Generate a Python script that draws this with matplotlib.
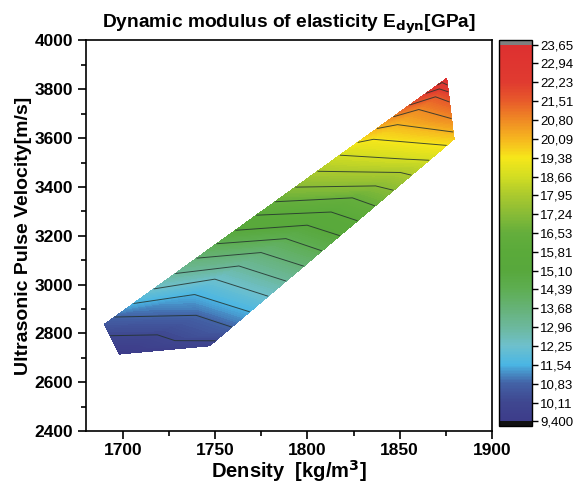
import numpy as np
import matplotlib
matplotlib.use("Agg")
import matplotlib.pyplot as plt
import matplotlib.tri as mtri
from matplotlib.colors import LinearSegmentedColormap, Normalize
from matplotlib.cm import ScalarMappable

plt.rcParams['font.family'] = ['Liberation Sans', 'DejaVu Sans']

# Measurement points read from the picture, arranged in cross-sections of the band
# upper (low-density) edge, middle line, lower (high-density) edge
upper_d = [1690.0, 1695.7, 1705.8, 1716.9, 1728.5, 1740.1, 1750.9, 1761.1, 1772.4, 1782.6,
           1793.6, 1805.6, 1817.7, 1827.3, 1837.8, 1846.6, 1855.4, 1864.3, 1870.5]
upper_v = [2837, 2868, 2923, 2983, 3046, 3109, 3168, 3223, 3285, 3340,
           3400, 3465, 3531, 3583, 3640, 3688, 3736, 3784, 3818]
mid_d = [1698.0, 1740.0, 1739.0, 1750.0, 1763.0, 1775.0, 1788.5, 1800.0, 1813.0, 1824.5,
         1837.0, 1850.5, 1855.0, 1836.0, 1849.0, 1860.5, 1869.5, 1871.5, 1873.0]
mid_v = [2715, 2875, 2960, 3023, 3077, 3132, 3189, 3244, 3298, 3356,
         3405, 3460, 3514, 3596, 3656, 3718, 3770, 3802, 3828]
lower_d = [1747.0, 1759.2, 1768.9, 1778.9, 1788.6, 1798.2, 1808.0, 1817.7, 1827.3, 1836.8,
           1846.8, 1856.5, 1866.1, 1875.6, 1879.0, 1878.1, 1877.0, 1876.4, 1875.9]
lower_v = [2749, 2827, 2889, 2953, 3015, 3076, 3139, 3201, 3262, 3323,
           3387, 3449, 3510, 3571, 3626, 3681, 3749, 3790, 3818]
upper_e = [10.55, 10.84, 11.55, 12.26, 12.97, 13.69, 14.40, 15.11, 15.82, 16.54,
           17.25, 17.96, 18.67, 19.39, 20.10, 20.81, 21.52, 22.24, 22.95]
mid_e = [9.40, 10.84, 11.55, 12.26, 12.97, 13.69, 14.40, 15.11, 15.82, 16.54,
         17.25, 17.96, 18.67, 19.39, 20.10, 20.81, 21.52, 22.24, 22.95]
lower_e = [9.85, 10.84, 11.55, 12.26, 12.97, 13.69, 14.40, 15.11, 15.82, 16.54,
           17.25, 17.96, 18.67, 19.39, 20.10, 20.81, 21.52, 22.24, 22.95]
corner_d = [1879.5, 1875.5]   # lower-right corner, top tip
corner_v = [3596, 3845]
corner_e = [19.75, 23.65]

cbar_ticks = [9.400, 10.11, 10.83, 11.54, 12.25, 12.96, 13.68, 14.39, 15.10, 15.81, 16.53,
              17.24, 17.95, 18.66, 19.38, 20.09, 20.80, 21.51, 22.23, 22.94, 23.65]
cbar_labels = ["9,400", "10,11", "10,83", "11,54", "12,25", "12,96", "13,68", "14,39", "15,10",
               "15,81", "16,53", "17,24", "17,95", "18,66", "19,38", "20,09", "20,80", "21,51",
               "22,23", "22,94", "23,65"]

cmap_colors = ["#3d3c8a", "#3f4790", "#4362a6", "#4ab6e4", "#6ec0cc", "#6cb89c", "#66b277",
               "#5eae52", "#58a83c", "#5aaa3a", "#64ae3c", "#88bb36", "#aac92e", "#d2dd22",
               "#f6e71a", "#f6b61f", "#f08b24", "#e85c2a", "#e03b30", "#de3030"]

# ---- mesh connectivity (structure only) ----
n = len(upper_d)
x = np.array(upper_d + mid_d + lower_d + corner_d)
y = np.array(upper_v + mid_v + lower_v + corner_v)
z = np.array(upper_e + mid_e + lower_e + corner_e)
U = lambda i: i
M = lambda i: n + i
L = lambda i: 2 * n + i
iD, iB = 3 * n, 3 * n + 1
tris = []
for i in range(n - 1):
    tris += [(U(i), U(i + 1), M(i + 1)), (U(i), M(i + 1), M(i)),
             (M(i), M(i + 1), L(i + 1)), (M(i), L(i + 1), L(i))]
k = lower_v.index(3571)
tris.append((L(k), iD, L(k + 1)))
tris += [(U(n - 1), iB, M(n - 1)), (M(n - 1), iB, L(n - 1))]
tri = mtri.Triangulation(x, y, triangles=np.array(tris))

vmin, vmax = cbar_ticks[0], cbar_ticks[-1]
pos = [(t - vmin) / (vmax - vmin) for t in cbar_ticks[:len(cmap_colors) - 1]] + [1.0]
cmap = LinearSegmentedColormap.from_list("origin_rainbow", list(zip(pos, cmap_colors)))
cmap.set_over("#7f7f7f")
cmap.set_under("#111111")
norm = Normalize(vmin=vmin, vmax=vmax)

fig = plt.figure(figsize=(5.77, 4.86), dpi=100)
ax = fig.add_axes([0.149, 0.1132, 0.7037, 0.8035])

ax.tricontourf(tri, z, levels=np.linspace(vmin, vmax, 200), cmap=cmap, norm=norm)
ax.tricontour(tri, z, levels=cbar_ticks[1:-1], colors='#24332e', linewidths=0.7, alpha=0.85)

ax.set_xlim(1680, 1900)
ax.set_ylim(2400, 4000)
ax.set_xticks([1700, 1750, 1800, 1850, 1900])
ax.set_xticks(np.arange(1700, 1901, 25), minor=True)
ax.set_yticks(np.arange(2400, 4001, 200))
ax.set_yticks(np.arange(2400, 4001, 100), minor=True)
ax.tick_params(which='major', direction='out', length=6, width=1.2, labelsize=12.5, pad=3,
               top=False, right=False)
ax.tick_params(which='minor', direction='out', length=3.5, width=1.2, top=False, right=False)
for lab in ax.get_xticklabels() + ax.get_yticklabels():
    lab.set_fontweight('bold')
for sp in ax.spines.values():
    sp.set_linewidth(1.2)

ax.set_xlabel("Density  [kg/m$^\\mathbf{3}$]", fontsize=14.5, fontweight='bold')
ax.xaxis.set_label_coords(0.5, -0.07)
ax.set_ylabel("Ultrasonic Pulse Velocity[m/s]", fontsize=14, fontweight='bold', labelpad=2)
ax.set_title("Dynamic modulus of elasticity E$_\\mathbf{dyn}$[GPa]", fontsize=13.8,
             fontweight='bold', pad=9)

cax = fig.add_axes([0.8648, 0.1235, 0.0572, 0.794])
sm = ScalarMappable(norm=norm, cmap=cmap)
cb = fig.colorbar(sm, cax=cax, extend='both', extendrect=True, extendfrac=0.012)
cb.set_ticks(cbar_ticks)
cb.set_ticklabels(cbar_labels)
cb.ax.tick_params(labelsize=9.5, length=4, width=1, pad=2)
cb.outline.set_linewidth(1.0)

fig.savefig("out.png", dpi=100)
